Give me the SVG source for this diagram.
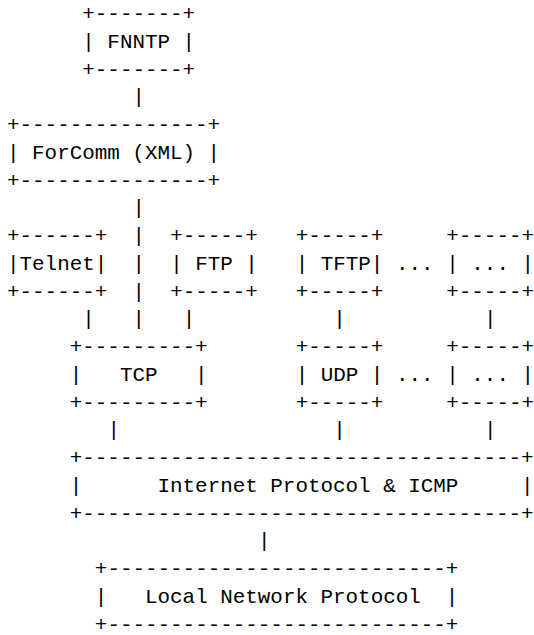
<svg xmlns="http://www.w3.org/2000/svg" width="534" height="635" viewBox="0 0 534 635">
<style>
text{font-family:"Liberation Mono","Courier New",monospace;font-size:20.9px;fill:#000;white-space:pre}
</style>
<rect width="534" height="635" fill="#fff"/>
<g id="FNNTP">
<text x="82.3" y="20" xml:space="preserve">+-------+</text>
<text x="82.3" y="47.75" xml:space="preserve">| FNNTP |</text>
<text x="82.3" y="75.5" xml:space="preserve">+-------+</text>
</g>
<g id="ForComm">
<text x="7" y="131" xml:space="preserve">+---------------+</text>
<text x="7" y="158.75" xml:space="preserve">| ForComm (XML) |</text>
<text x="7" y="186.5" xml:space="preserve">+---------------+</text>
</g>
<g id="Telnet">
<text x="7" y="242" xml:space="preserve">+------+</text>
<text x="7" y="269.75" xml:space="preserve">|Telnet|</text>
<text x="7" y="297.5" xml:space="preserve">+------+</text>
</g>
<g id="FTP">
<text x="170.15" y="242" xml:space="preserve">+-----+</text>
<text x="170.15" y="269.75" xml:space="preserve">| FTP |</text>
<text x="170.15" y="297.5" xml:space="preserve">+-----+</text>
</g>
<g id="TFTP">
<text x="295.65" y="242" xml:space="preserve">+-----+</text>
<text x="295.65" y="269.75" xml:space="preserve">| TFTP|</text>
<text x="295.65" y="297.5" xml:space="preserve">+-----+</text>
</g>
<g id="App-other">
<text x="446.25" y="242" xml:space="preserve">+-----+</text>
<text x="446.25" y="269.75" xml:space="preserve">| ... |</text>
<text x="446.25" y="297.5" xml:space="preserve">+-----+</text>
</g>
<g id="TCP">
<text x="69.75" y="353" xml:space="preserve">+---------+</text>
<text x="69.75" y="380.75" xml:space="preserve">|   TCP   |</text>
<text x="69.75" y="408.5" xml:space="preserve">+---------+</text>
</g>
<g id="UDP">
<text x="295.65" y="353" xml:space="preserve">+-----+</text>
<text x="295.65" y="380.75" xml:space="preserve">| UDP |</text>
<text x="295.65" y="408.5" xml:space="preserve">+-----+</text>
</g>
<g id="Transport-other">
<text x="446.25" y="353" xml:space="preserve">+-----+</text>
<text x="446.25" y="380.75" xml:space="preserve">| ... |</text>
<text x="446.25" y="408.5" xml:space="preserve">+-----+</text>
</g>
<g id="IP">
<text x="69.75" y="464" xml:space="preserve">+-----------------------------------+</text>
<text x="69.75" y="491.75" xml:space="preserve">|      Internet Protocol &amp; ICMP     |</text>
<text x="69.75" y="519.5" xml:space="preserve">+-----------------------------------+</text>
</g>
<g id="LocalNet">
<text x="94.85" y="575" xml:space="preserve">+---------------------------+</text>
<text x="94.85" y="602.75" xml:space="preserve">|   Local Network Protocol  |</text>
<text x="94.85" y="630.5" xml:space="preserve">+---------------------------+</text>
</g>
<g id="ellipses">
<text x="396.05" y="269.75">...</text>
<text x="396.05" y="380.75">...</text>
</g>
<g id="connectors">
<text x="132.5" y="103.25">|</text>
<text x="132.5" y="214.25">|</text>
<text x="132.5" y="242">|</text>
<text x="132.5" y="269.75">|</text>
<text x="132.5" y="297.5">|</text>
<text x="82.3" y="325.25">|</text>
<text x="132.5" y="325.25">|</text>
<text x="182.7" y="325.25">|</text>
<text x="333.3" y="325.25">|</text>
<text x="483.9" y="325.25">|</text>
<text x="107.4" y="436.25">|</text>
<text x="333.3" y="436.25">|</text>
<text x="483.9" y="436.25">|</text>
<text x="258" y="547.25">|</text>
</g>
</svg>
